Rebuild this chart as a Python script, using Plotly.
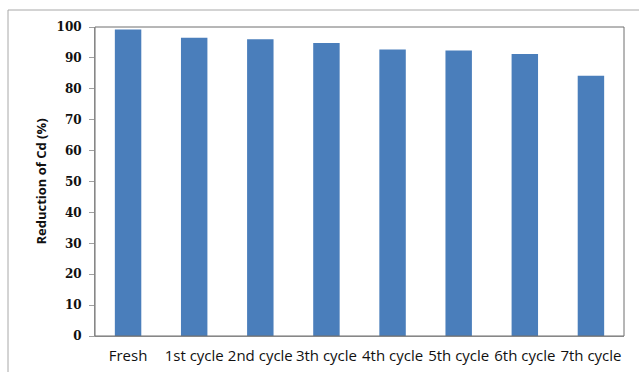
import plotly.graph_objects as go

categories = ["Fresh", "1st cycle", "2nd cycle", "3th cycle", "4th cycle", "5th cycle", "6th cycle", "7th cycle"]
reduction_cd = [99.2, 96.5, 96.0, 94.8, 92.7, 92.4, 91.3, 84.2]
y_ticks = [0, 10, 20, 30, 40, 50, 60, 70, 80, 90, 100]
y_title = "Reduction of Cd (%)"

W, H = 639, 372
L, R, T, B = 95, 15, 27, 36
pw, ph = W - L - R, H - T - B

def px_x(x):
    return (x - L) / pw

def px_y(y):
    return 1 - (y - T) / ph

fig = go.Figure(go.Bar(
    x=categories, y=reduction_cd,
    marker=dict(color="#4A7EBB", line=dict(width=0)),
))

fig.update_layout(
    width=W, height=H,
    margin=dict(l=L, r=R, t=T, b=B, autoexpand=False),
    paper_bgcolor="white", plot_bgcolor="white",
    bargap=0.6,
    showlegend=False,
    xaxis=dict(
        automargin=False,
        showline=True, linecolor="#A0A0A0", linewidth=1,
        ticks="", showgrid=False,
        tickfont=dict(family="Open Sans, Liberation Sans, sans-serif", size=15, color="#111111"),
        ticklabelstandoff=6,
    ),
    yaxis=dict(
        automargin=False,
        range=[0, 100], tickvals=y_ticks,
        showline=True, linecolor="#A0A0A0", linewidth=1,
        ticks="outside", ticklen=5, tickcolor="#A0A0A0",
        showgrid=False, zeroline=False,
        tickfont=dict(family="DejaVu Serif, Liberation Serif, serif", size=12, color="#111111", weight="bold"),
        ticklabelstandoff=5,
        title=dict(text="<b>" + y_title + "</b>", standoff=6,
                   font=dict(family="Open Sans, Liberation Sans, sans-serif", size=13, color="#111111")),
    ),
    shapes=[
        # plot area border
        dict(type="rect", xref="paper", yref="paper", x0=0, x1=1, y0=0, y1=1,
             line=dict(color="#6E6E6E", width=1), layer="above"),
        # outer chart border (top and left visible)
        dict(type="line", xref="paper", yref="paper", x0=px_x(8), x1=px_x(640), y0=px_y(10), y1=px_y(10),
             line=dict(color="#A8A8A8", width=1)),
        dict(type="line", xref="paper", yref="paper", x0=px_x(8), x1=px_x(8), y0=px_y(10), y1=px_y(373),
             line=dict(color="#A8A8A8", width=1)),
    ],
)

fig.write_html(
    "out.html",
    config={"displayModeBar": False},
    post_script="document.body.style.margin='0';document.body.style.overflow='hidden';",
)
